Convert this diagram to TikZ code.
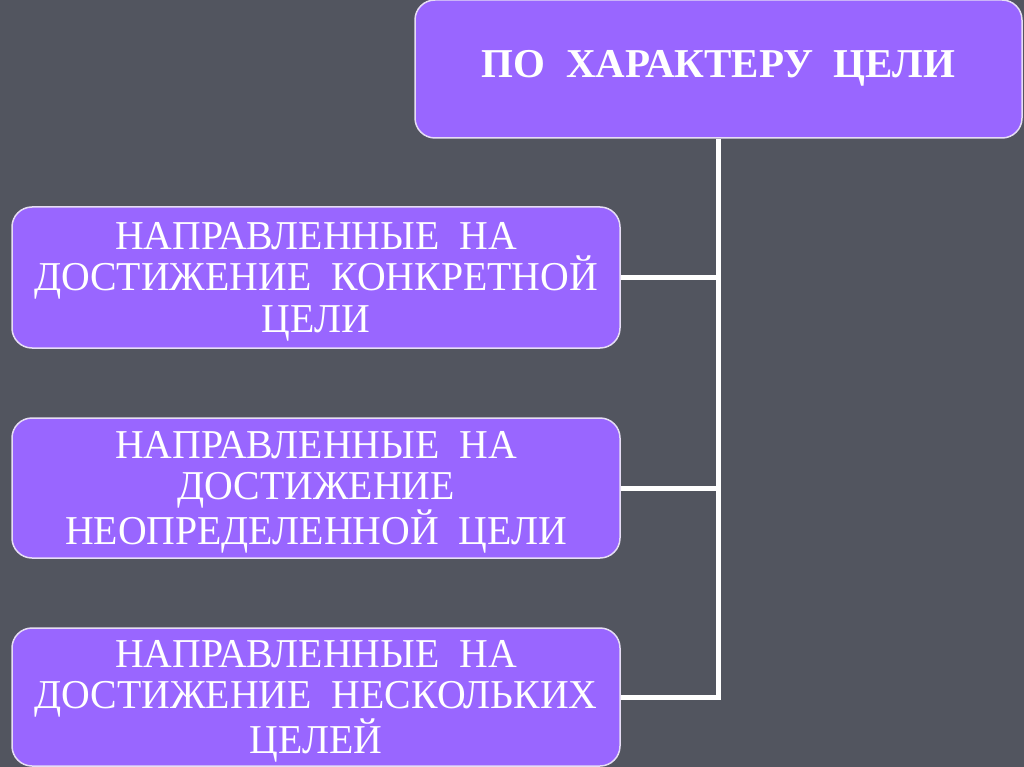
\documentclass[tikz,border=0pt]{standalone}
\usepackage{fontspec}
\setmainfont{Liberation Serif}
\newfontfamily\bodyfont{Liberation Serif}[FakeStretch=0.97]
\definecolor{bgc}{HTML}{52555F}
\definecolor{boxc}{HTML}{9966FF}
\definecolor{edgec}{HTML}{E6DDF5}
\begin{document}
\begin{tikzpicture}[x=1pt,y=-1pt,
  box/.style={draw=edgec,line width=1.5pt,fill=boxc,rounded corners=20pt,
    inner sep=0pt,minimum width=608pt},
  txt/.style={text=white,align=center,inner sep=0pt,yshift=-4pt,
    font=\bodyfont\fontsize{41}{41.5}\selectfont},
  conn/.style={draw=white,line width=5pt}]
\useasboundingbox (0,0) rectangle (1024,767);
\fill[bgc] (0,0) rectangle (1024,767);
\node[box,minimum width=607pt,minimum height=138pt,
  label={[txt,yshift=5pt,font=\bfseries\fontsize{41}{42}\selectfont]center:ПО\ \ ХАРАКТЕРУ\ \ ЦЕЛИ}] (top) at (718.5,69) {};
\node[box,minimum height=141pt,
  label={[txt]center:{НАПРАВЛЕННЫЕ\ \ НА\\ДОСТИЖЕНИЕ\ \ КОНКРЕТНОЙ\\ЦЕЛИ}}] (b1) at (316,277.5) {};
\node[box,minimum height=140pt,
  label={[txt]center:{НАПРАВЛЕННЫЕ\ \ НА\\ДОСТИЖЕНИЕ\\НЕОПРЕДЕЛЕННОЙ\ \ ЦЕЛИ}}] (b2) at (316,488) {};
\node[box,minimum height=138pt,
  label={[txt]center:{НАПРАВЛЕННЫЕ\ \ НА\\ДОСТИЖЕНИЕ\ \ НЕСКОЛЬКИХ\\ЦЕЛЕЙ}}] (b3) at (316,697) {};
\draw[conn] (top.south) -- (top.south |- b3.east) -- (b3.east);
\draw[conn] (b1.east) -- (b1.east -| top.south);
\draw[conn] (b2.east) -- (b2.east -| top.south);
\end{tikzpicture}
\end{document}
